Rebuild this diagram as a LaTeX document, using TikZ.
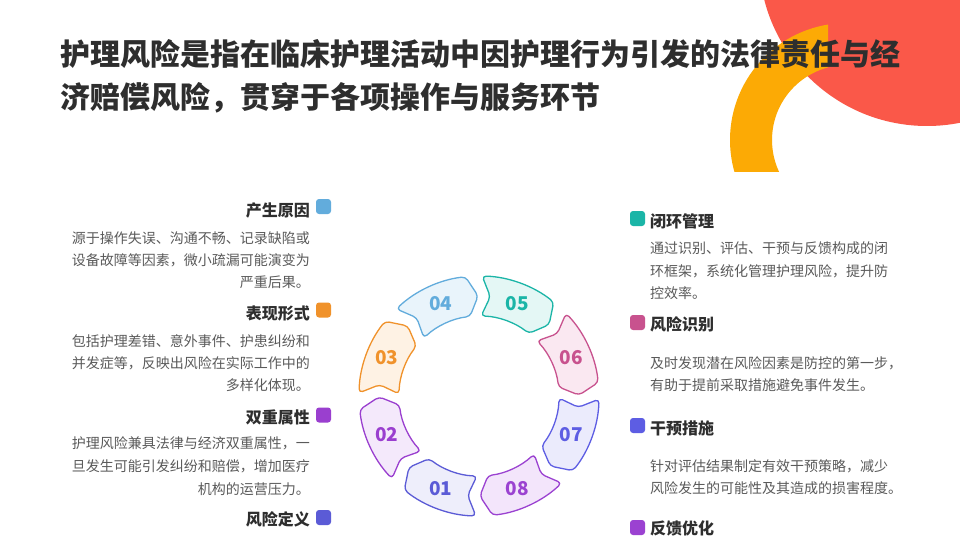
\documentclass[tikz,border=0pt]{standalone}
\usepackage{fontspec}
\setmainfont{Noto Sans CJK SC}
\definecolor{c1}{HTML}{5B5BD6}\definecolor{f1}{HTML}{EEEEFB}
\definecolor{c2}{HTML}{9A3FCF}\definecolor{f2}{HTML}{F4E9FB}
\definecolor{c3}{HTML}{F0922B}\definecolor{f3}{HTML}{FEF2E4}
\definecolor{c4}{HTML}{62ACDC}\definecolor{f4}{HTML}{E9F4FB}
\definecolor{c5}{HTML}{1BB5A7}\definecolor{f5}{HTML}{E4F7F5}
\definecolor{c6}{HTML}{C8528E}\definecolor{f6}{HTML}{FAE8F1}
\definecolor{c7}{HTML}{5D5DE3}\definecolor{f7}{HTML}{EBEBFC}
\definecolor{c8}{HTML}{9B42D1}\definecolor{f8}{HTML}{F3E5FB}
\definecolor{tdark}{HTML}{2E2E2E}
\definecolor{tgray}{HTML}{5A5A5A}
\definecolor{redc}{HTML}{FA5849}
\definecolor{orc}{HTML}{FCAA05}
\tikzset{
  lhead/.style={anchor=base east, inner sep=0pt, text=tdark, font=\fontsize{16}{16}\selectfont\bfseries},
  rhead/.style={anchor=base west, inner sep=0pt, text=tdark, font=\fontsize{16}{16}\selectfont\bfseries},
  lbody/.style={anchor=base east, inner sep=0pt, text=tgray, font=\fontsize{14}{14}\selectfont},
  rbody/.style={anchor=base west, inner sep=0pt, text=tgray, font=\fontsize{14}{14}\selectfont},
  ttl/.style={anchor=base west, inner sep=0pt, text=tdark, font=\fontsize{30}{30}\selectfont\bfseries},
  dotbox/.style={minimum size=15pt, inner sep=0pt, rounded corners=3pt},
  segline/.style={line width=1.3pt, rounded corners=4pt, line join=round},
  numlab/.style={inner sep=0pt, font=\fontsize{19}{19}\selectfont\bfseries}
}
\begin{document}
\begin{tikzpicture}[x=1pt,y=-1pt]
\useasboundingbox (0,0) rectangle (960,540);
\fill[white] (0,0) rectangle (960,540);
% decorations
\begin{scope}
\clip (0,0) rectangle (960,540);
\fill[redc] (927,-42) circle[radius=168pt];
\begin{scope}
\clip (600,0) rectangle (828,172);
\fill[orc, even odd rule] (847,140) circle[radius=117pt] (847,140) circle[radius=75pt];
\end{scope}
\end{scope}
% title
\node[ttl] (t1) at (60,66) {护理风险是指在临床护理活动中因护理行为引发的法律责任与经};
\node[ttl] (t2) at (60,109) {济赔偿风险，贯穿于各项操作与服务环节};
% ring
\coordinate (C) at (479,396);
\begin{scope}[shift={(C)}]
\foreach \k/\a in {1/-112.5,2/-157.5,3/157.5,4/112.5,5/67.5,6/22.5,7/-22.5,8/-67.5}{
  \draw[segline, draw=c\k, fill=f\k] ({\a+21}:120pt) arc[start angle={\a+21}, end angle={\a-16}, radius=120pt]
    -- ({\a-22}:100pt) -- ({\a-16}:80pt) arc[start angle={\a-16}, end angle={\a+21}, radius=80pt]
    -- ({\a+16}:100pt) -- cycle;
  \node[numlab, text=c\k] (n\k) at (\a:100pt) {0\k};
}
\end{scope}
% left column
\node[dotbox, fill=c4] (m4) at (323.5,206.5) {};
\node[lhead] (h4) at (310,216) {产生原因};
\node[lbody] (b4a) at (310,243) {源于操作失误、沟通不畅、记录缺陷或};
\node[lbody] (b4b) at (310,265) {设备故障等因素，微小疏漏可能演变为};
\node[lbody] (b4c) at (310,287) {严重后果。};
\node[dotbox, fill=c3] (m3) at (323.5,310) {};
\node[lhead] (h3) at (310,319) {表现形式};
\node[lbody] (b3a) at (310,346) {包括护理差错、意外事件、护患纠纷和};
\node[lbody] (b3b) at (310,368) {并发症等，反映出风险在实际工作中的};
\node[lbody] (b3c) at (310,390) {多样化体现。};
\node[dotbox, fill=c2] (m2) at (323.5,415) {};
\node[lhead] (h2) at (310,423) {双重属性};
\node[lbody] (b2a) at (310,448) {护理风险兼具法律与经济双重属性，一};
\node[lbody] (b2b) at (310,471) {旦发生可能引发纠纷和赔偿，增加医疗};
\node[lbody] (b2c) at (310,494) {机构的运营压力。};
\node[dotbox, fill=c1] (m1) at (323.5,517.5) {};
\node[lhead] (h1) at (310,525) {风险定义};
% right column
\node[dotbox, fill=c5] (m5) at (637.5,218.5) {};
\node[rhead] (h5) at (650,227) {闭环管理};
\node[rbody] (b5a) at (650,253) {通过识别、评估、干预与反馈构成的闭};
\node[rbody] (b5b) at (650,276) {环框架，系统化管理护理风险，提升防};
\node[rbody] (b5c) at (650,298) {控效率。};
\node[dotbox, fill=c6] (m6) at (637.5,322.5) {};
\node[rhead] (h6) at (650,330) {风险识别};
\node[rbody] (b6a) at (650,368) {及时发现潜在风险因素是防控的第一步，};
\node[rbody] (b6b) at (650,390) {有助于提前采取措施避免事件发生。};
\node[dotbox, fill=c7] (m7) at (637.5,425.5) {};
\node[rhead] (h7) at (650,434) {干预措施};
\node[rbody] (b7a) at (650,471) {针对评估结果制定有效干预策略，减少};
\node[rbody] (b7b) at (650,493) {风险发生的可能性及其造成的损害程度。};
\node[dotbox, fill=c8] (m8) at (637.5,527.5) {};
\node[rhead] (h8) at (650,534) {反馈优化};
\end{tikzpicture}
\end{document}
